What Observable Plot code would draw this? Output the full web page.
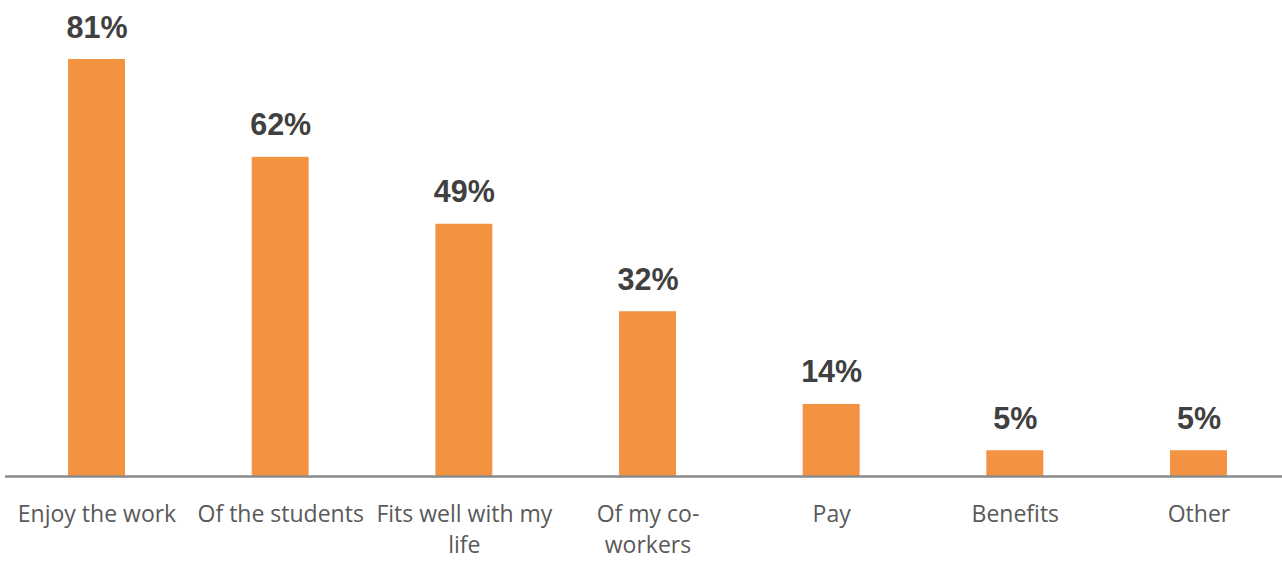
<!DOCTYPE html>
<html>
<head>
<meta charset="utf-8">
<script src="https://cdn.jsdelivr.net/npm/d3@7"></script>
<script src="https://cdn.jsdelivr.net/npm/@observablehq/plot@0.6"></script>
<style>
  html, body { margin: 0; padding: 0; background: #fff; }
  #chart svg { display: block; }
</style>
</head>
<body>
<div id="chart"></div>
<script>
const categories = ["Enjoy the work", "Of the students", "Fits well with my life", "Of my co-workers", "Pay", "Benefits", "Other"];
const tickLabels = ["Enjoy the work", "Of the students", "Fits well with my\nlife", "Of my co-\nworkers", "Pay", "Benefits", "Other"];
const values = [81, 62, 49, 32, 14, 5, 5];

const data = categories.map((c, i) => ({category: c, value: values[i], label: values[i] + "%"}));
const labelOf = new Map(categories.map((c, i) => [c, tickLabels[i]]));

const chart = Plot.plot({
  width: 1282,
  height: 587,
  marginLeft: 5,
  marginRight: 0,
  marginTop: 0,
  marginBottom: 111,
  style: {background: "#fff"},
  x: {domain: categories, range: [4.7, 1290.3], round: false, paddingInner: 0.69, paddingOuter: 0.345, label: null},
  y: {domain: [0, 81], range: [476, 59], axis: null},
  marks: [
    Plot.barY(data, {x: "category", y: "value", fill: "#F39240"}),
    Plot.ruleY([0], {stroke: "#8a8a8a", strokeWidth: 2.5}),
    Plot.text(data, {x: "category", y: "value", text: "label", lineAnchor: "bottom", dy: -22,
      fontSize: 30.5, fontWeight: "bold", fill: "#404040", fontFamily: "Liberation Sans, Arial, sans-serif"}),
    Plot.axisX({tickSize: 0, tickPadding: 23, tickFormat: d => labelOf.get(d), fontSize: 23,
      lineHeight: 1.37, fill: "#595959", fontFamily: "Open Sans, sans-serif", label: null})
  ]
});
document.getElementById("chart").appendChild(chart);
</script>
</body>
</html>
